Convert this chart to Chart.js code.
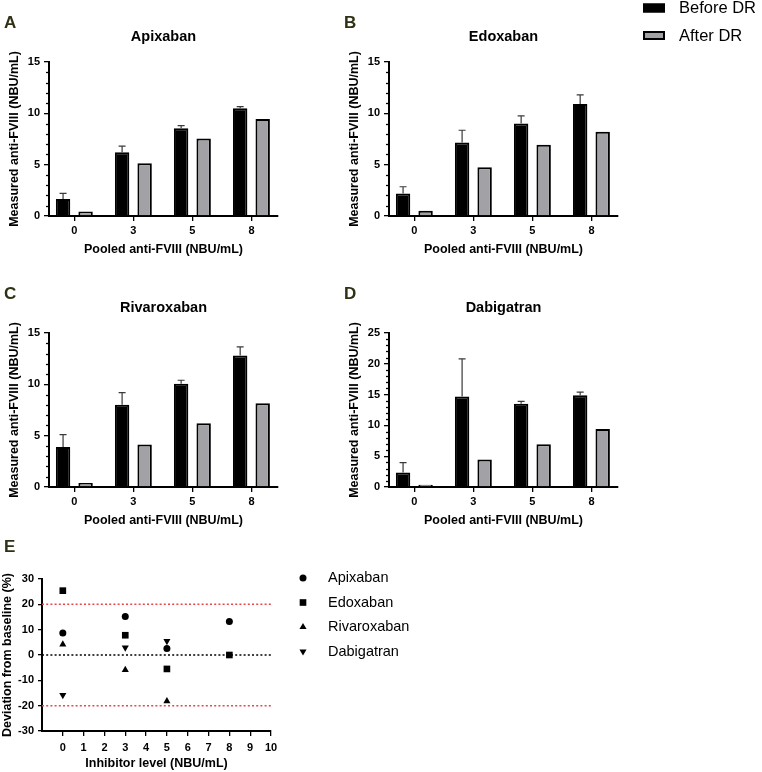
<!DOCTYPE html>
<html>
<head>
<meta charset="utf-8">
<script src="https://cdn.jsdelivr.net/npm/chart.js@4.4.0/dist/chart.umd.min.js"></script>
<style>
  body { margin: 0; background: #fff; width: 762px; height: 772px; position: relative; overflow: hidden; }
  canvas { position: absolute; }
</style>
</head>
<body>
<canvas id="cA" width="300" height="262" style="left:0;top:0"></canvas>
<canvas id="cB" width="422" height="262" style="left:340px;top:0"></canvas>
<canvas id="cC" width="300" height="262" style="left:0;top:271px"></canvas>
<canvas id="cD" width="300" height="262" style="left:340px;top:271px"></canvas>
<canvas id="cE" width="440" height="242" style="left:0;top:530px"></canvas>
<script>
// ---- data ----
const doseLabels = ['0', '3', '5', '8'];

const apixBefore   = [1.65, 6.2, 8.55, 10.5];
const apixBeforeSD = [0.55, 0.6, 0.25, 0.15];
const apixAfter    = [0.45, 5.15, 7.55, 9.45];

const edoxBefore   = [2.2, 7.15, 9.0, 10.9];
const edoxBeforeSD = [0.65, 1.2, 0.75, 0.9];
const edoxAfter    = [0.52, 4.75, 6.95, 8.2];

const rivaBefore   = [3.9, 8.0, 10.05, 12.8];
const rivaBeforeSD = [1.2, 1.2, 0.35, 0.85];
const rivaAfter    = [0.4, 4.15, 6.2, 8.15];

const dabiBefore   = [2.35, 14.7, 13.5, 14.9];
const dabiBeforeSD = [1.6, 6.1, 0.4, 0.5];
const dabiAfter    = [0.35, 4.45, 6.95, 9.4];

const inhibitorLevels = [0, 3, 5, 8];
const devApix = [8.7, 15.2, 2.6, 13.2];
const devEdox = [25.4, 7.8, -5.5, 0];
const devRiva = [4.2, -5.9, -18.2, null];
const devDabi = [-15.8, 2.9, 5.5, null];
const limitUpper = 20;
const limitLower = -20;

const FONT = '"Liberation Sans", Arial, sans-serif';
const GREY = '#a2a2a6';
const LETTER = '#2f3014';

// error bars, minor ticks, panel letter and title
const panelDecor = {
  id: 'panelDecor',
  afterDatasetsDraw(chart, args, opts) {
    const ctx = chart.ctx;
    const area = chart.chartArea;
    const y = chart.scales.y;
    ctx.save();
    if (opts.sd) {
      const meta = chart.getDatasetMeta(0);
      const vals = chart.data.datasets[0].data;
      ctx.strokeStyle = '#3a3a3a';
      ctx.lineWidth = 1.2;
      meta.data.forEach((bar, i) => {
        const top = y.getPixelForValue(vals[i].y + opts.sd[i]);
        ctx.beginPath();
        ctx.moveTo(bar.x, bar.y);
        ctx.lineTo(bar.x, top);
        ctx.moveTo(bar.x - 3.5, top);
        ctx.lineTo(bar.x + 3.5, top);
        ctx.stroke();
      });
    }
    if (opts.minor) {
      ctx.strokeStyle = '#000';
      ctx.lineWidth = 1.3;
      for (let v = y.min; v <= y.max; v += opts.minor) {
        if (v % opts.major === 0) continue;
        const py = Math.round(y.getPixelForValue(v)) + 0.5;
        ctx.beginPath();
        ctx.moveTo(area.left - 3, py);
        ctx.lineTo(area.left, py);
        ctx.stroke();
      }
    }
    ctx.fillStyle = LETTER;
    ctx.font = 'bold 17px ' + FONT;
    ctx.textAlign = 'left';
    ctx.textBaseline = 'middle';
    ctx.fillText(opts.letter, 4, opts.letterY);
    if (opts.title) {
      ctx.fillStyle = '#000';
      ctx.font = 'bold 14.5px ' + FONT;
      ctx.textAlign = 'center';
      ctx.fillText(opts.title, (area.left + area.right) / 2, area.top - 25);
    }
    ctx.restore();
  }
};

// "Before DR / After DR" legend at top right
const barLegend = {
  id: 'barLegend',
  afterDraw(chart, args, opts) {
    if (!opts.show) return;
    const ctx = chart.ctx;
    ctx.save();
    chart.data.datasets.forEach((ds, i) => {
      const ly = 3.5 + i * 27.5;
      ctx.fillStyle = ds.backgroundColor;
      ctx.fillRect(303, ly, 22, 9);
      ctx.strokeStyle = '#000';
      ctx.lineWidth = 2;
      ctx.strokeRect(304, ly + 1, 20, 7);
      ctx.fillStyle = '#000';
      ctx.font = '16.5px ' + FONT;
      ctx.textAlign = 'left';
      ctx.textBaseline = 'middle';
      ctx.fillText(ds.label, 339, ly + 5);
    });
    ctx.restore();
  }
};

function barPanel(id, title, letter, before, beforeSD, after, yMax, showLegend) {
  const tickFont = { family: FONT, size: 11, weight: 'bold' };
  const titleFont = { family: FONT, size: 12.5, weight: 'bold' };
  const pts = vals => vals.map((v, i) => ({ x: i, y: v }));
  new Chart(document.getElementById(id), {
    type: 'bar',
    data: {
      datasets: [
        { label: 'Before DR', data: pts(before), backgroundColor: '#000', borderColor: '#000', borderWidth: 2,
          categoryPercentage: 0.763, barPercentage: 0.64 },
        { label: 'After DR', data: pts(after), backgroundColor: GREY, borderColor: '#000', borderWidth: 2,
          categoryPercentage: 0.763, barPercentage: 0.64 }
      ]
    },
    options: {
      responsive: false,
      animation: false,
      layout: { padding: { top: 62, left: 0, right: showLegend ? 144 : 22, bottom: 0 } },
      plugins: {
        legend: { display: false },
        tooltip: { enabled: false },
        panelDecor: { sd: beforeSD, minor: 1, major: 5, letter: letter, letterY: 23, title: title },
        barLegend: { show: showLegend }
      },
      scales: {
        x: {
          type: 'linear', min: -0.429, max: 3.45, offset: false,
          afterBuildTicks(s) { s.ticks = doseLabels.map((_, i) => ({ value: i })); },
          grid: { drawOnChartArea: false, drawTicks: true, tickLength: 5, color: '#000', lineWidth: 1.3, offset: false },
          border: { display: true, color: '#000', width: 2 },
          ticks: { font: tickFont, color: '#000', padding: 3, callback: v => doseLabels[v] },
          title: { display: true, text: 'Pooled anti-FVIII (NBU/mL)', font: titleFont, color: '#000', padding: { top: 4, bottom: 4.5 } },
          afterFit(s) { s.height = 46; }
        },
        y: {
          min: 0, max: yMax,
          ticks: { stepSize: 5, font: tickFont, color: '#000', padding: 4 },
          grid: { drawOnChartArea: false, drawTicks: true, tickLength: 5, color: '#000', lineWidth: 1.3 },
          border: { display: true, color: '#000', width: 2 },
          title: { display: true, text: 'Measured anti-FVIII (NBU/mL)', font: titleFont, color: '#000', padding: { top: 7.5, bottom: 2 } },
          afterFit(s) { s.width = 49; }
        }
      }
    },
    plugins: [panelDecor, barLegend]
  });
}

barPanel('cA', 'Apixaban', 'A', apixBefore, apixBeforeSD, apixAfter, 15, false);
barPanel('cB', 'Edoxaban', 'B', edoxBefore, edoxBeforeSD, edoxAfter, 15, true);
barPanel('cC', 'Rivaroxaban', 'C', rivaBefore, rivaBeforeSD, rivaAfter, 15, false);
barPanel('cD', 'Dabigatran', 'D', dabiBefore, dabiBeforeSD, dabiAfter, 25, false);

// ---- panel E ----
const toPts = vals => inhibitorLevels.map((x, i) => ({ x: x, y: vals[i] }));
const markerSets = [
  { label: 'Apixaban', data: toPts(devApix), pointStyle: 'circle', pointRadius: 3.5, rotation: 0 },
  { label: 'Edoxaban', data: toPts(devEdox), pointStyle: 'rect', pointRadius: 4.7, rotation: 0 },
  { label: 'Rivaroxaban', data: toPts(devRiva), pointStyle: 'triangle', pointRadius: 4.1, rotation: 0 },
  { label: 'Dabigatran', data: toPts(devDabi), pointStyle: 'triangle', pointRadius: 4.1, rotation: 180 }
].map(d => Object.assign(d, { backgroundColor: '#000', borderColor: '#000', borderWidth: 0, showLine: false }));

const refLine = (v, color) => ({
  label: '', data: [{ x: -1, y: v }, { x: 10, y: v }], showLine: true, borderColor: color,
  borderWidth: 1.5, borderDash: [2, 2.2], pointRadius: 0, isRef: true
});

const scatterLegend = {
  id: 'scatterLegend',
  afterDraw(chart) {
    const ctx = chart.ctx;
    ctx.save();
    chart.data.datasets.filter(d => !d.isRef).forEach((ds, i) => {
      const ly = 48 + i * 24.5;
      ctx.fillStyle = '#000';
      ctx.strokeStyle = '#000';
      Chart.helpers.drawPoint(ctx, { pointStyle: ds.pointStyle, radius: ds.pointRadius, rotation: ds.rotation, borderWidth: 0 }, 303, ly);
      ctx.font = '14.5px ' + FONT;
      ctx.textAlign = 'left';
      ctx.textBaseline = 'middle';
      ctx.fillText(ds.label, 328, ly);
    });
    ctx.restore();
  }
};

const eTick = { family: FONT, size: 11, weight: 'bold' };
const eTitle = { family: FONT, size: 12.5, weight: 'bold' };
new Chart(document.getElementById('cE'), {
  type: 'scatter',
  data: {
    datasets: [
      refLine(limitUpper, '#e8474a'),
      refLine(limitLower, '#e8474a'),
      refLine(0, '#000'),
      ...markerSets
    ]
  },
  options: {
    responsive: false,
    animation: false,
    layout: { padding: { top: 49, left: 0, right: 169, bottom: 0 } },
    plugins: {
      legend: { display: false },
      tooltip: { enabled: false },
      panelDecor: { letter: 'E', letterY: 17 }
    },
    scales: {
      x: {
        type: 'linear', min: -1, max: 10,
        ticks: { stepSize: 1, font: eTick, color: '#000', padding: 5, callback: v => (v < 0 ? '' : v) },
        grid: { drawOnChartArea: false, tickLength: 5, lineWidth: 1.3,
                color: c => (c.tick && c.tick.value < 0 ? 'rgba(0,0,0,0)' : '#000') },
        border: { display: true, color: '#000', width: 2 },
        title: { display: true, text: 'Inhibitor level (NBU/mL)', font: eTitle, color: '#000', padding: { top: 4, bottom: 1 } },
        afterFit(s) { s.height = 41; }
      },
      y: {
        min: -30, max: 30,
        ticks: { stepSize: 10, font: eTick, color: '#000', padding: 4 },
        grid: { drawOnChartArea: false, tickLength: 4, color: '#000', lineWidth: 1.3 },
        border: { display: true, color: '#000', width: 2 },
        title: { display: true, text: 'Deviation from baseline (%)', font: eTitle, color: '#000', padding: { top: 0, bottom: 2 } },
        afterFit(s) { s.width = 42; }
      }
    }
  },
  plugins: [panelDecor, scatterLegend]
});
</script>
</body>
</html>
